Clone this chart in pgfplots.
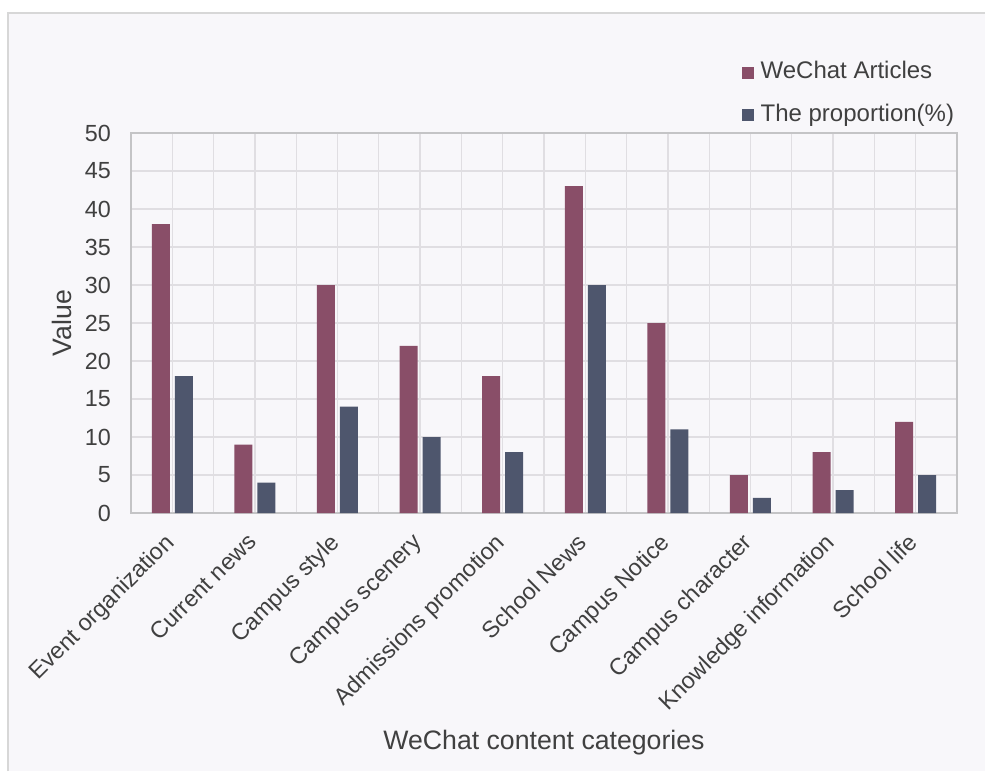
\documentclass[border=0pt]{standalone}
\usepackage{pgfplots}
\pgfplotsset{compat=1.18}
\usepackage{fontspec}
\setmainfont{Liberation Sans}
\definecolor{barred}{RGB}{137,78,104}
\definecolor{barblue}{RGB}{78,86,109}
\definecolor{bgc}{RGB}{248,247,250}
\definecolor{gridc}{RGB}{224,222,226}
\definecolor{framec}{RGB}{196,196,198}
\definecolor{txt}{RGB}{64,64,64}
\definecolor{outer}{RGB}{215,215,215}
\begin{document}
\begin{tikzpicture}
\fill[white] (-98.25pt,-193.5pt) rectangle (640.5pt,384.75pt);
\path[use as bounding box] (-98.25pt,-193.5pt) rectangle (640.5pt,384.75pt);
\fill[bgc] (-92.25pt,-193.5pt) rectangle (640.5pt,375pt);
\draw[outer, line width=1.5pt] (-92.25pt,-193.5pt) -- (-92.25pt,375pt) -- (640.5pt,375pt);
\begin{axis}[
  at={(0,0)}, anchor=south west,
  scale only axis, width=619.5pt, height=285pt,
  ybar=3.75pt, bar width=13.5pt,
  xmin=-0.5, xmax=9.5, ymin=0, ymax=50,
  xtick={0,...,9},
  minor xtick={-0.5,0.5,...,9.5},
  ytick={0,5,...,50},
  xticklabels={Event organization, Current news, Campus style, Campus scenery, Admissions promotion, School News, Campus Notice, Campus character, Knowledge information, School life},
  grid=both,
  major grid style={gridc, line width=1pt},
  minor grid style={gridc, line width=1pt},
  major tick length=0pt, minor tick length=0pt,
  axis line style={framec, line width=1pt},
  axis background/.style={fill=bgc},
  /pgf/number format/assume math mode=true,
  tick label style={font=\fontsize{17.5}{21}\selectfont, text=txt},
  xticklabel style={xshift=-6.75pt, yshift=-14pt, rotate=45, anchor=north east, inner sep=0pt},
  yticklabel style={anchor=east, inner sep=0pt, xshift=-15pt},
  xlabel={WeChat content categories},
  ylabel={Value},
  label style={font=\fontsize{20}{23}\selectfont, text=txt},
  xlabel style={at={(axis description cs:0.5,0)}, anchor=center, yshift=-172.5pt},
  ylabel style={at={(axis description cs:0,0.5)}, anchor=center, yshift=51.75pt},
  legend style={draw=none, fill=none, at={(axis description cs:1,1)}, anchor=south east, yshift=1.5pt, xshift=2pt,
    font=\fontsize{18}{21}\selectfont, text=txt, row sep=13pt,
    nodes={text height=13pt, text depth=4pt, inner sep=1pt}},
  legend cell align=left,
  legend image code/.code={\fill[#1] (0pt,-4.5pt) rectangle (9pt,4.5pt);},
  legend style={/tikz/every odd column/.append style={column sep=4pt}},
]
\addplot[fill=barred, draw=none] coordinates {(0,38) (1,9) (2,30) (3,22) (4,18) (5,43) (6,25) (7,5) (8,8) (9,12)};
\addplot[fill=barblue, draw=none] coordinates {(0,18) (1,4) (2,14) (3,10) (4,8) (5,30) (6,11) (7,2) (8,3) (9,5)};
\legend{WeChat Articles, The proportion(\%)}
\end{axis}
\end{tikzpicture}
\end{document}
